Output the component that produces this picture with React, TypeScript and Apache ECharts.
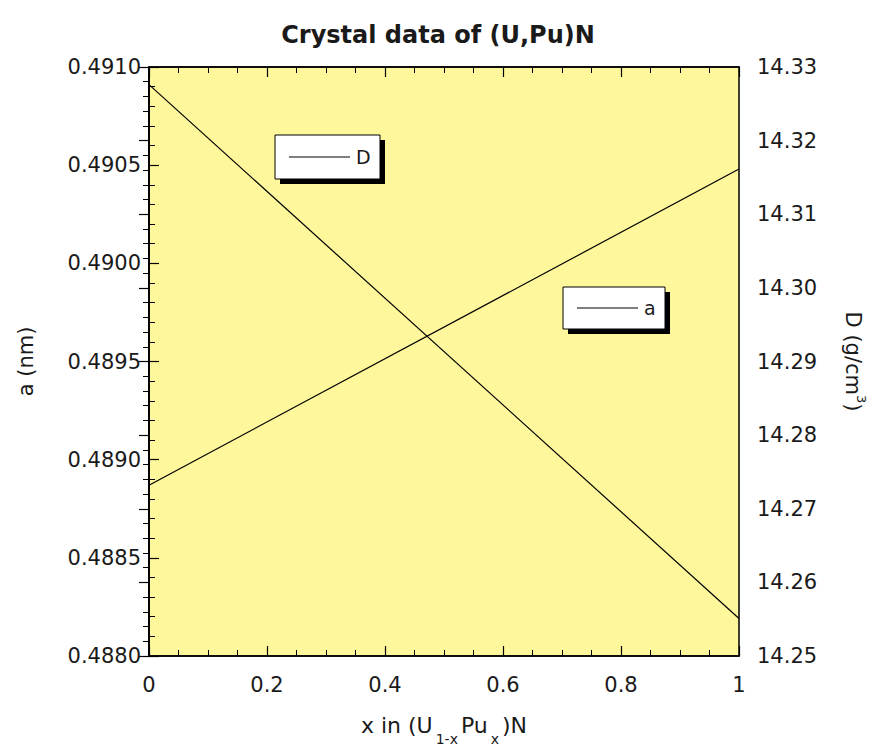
import React, { useEffect, useRef } from "react";
import * as echarts from "echarts";

const xValues = [0, 1];
const aValues = [0.48887, 0.49048];
const dValues = [14.3276, 14.2551];
const seriesNames = ["a", "D"];
const titleText = "Crystal data of (U,Pu)N";

const FONT = "DejaVu Sans";
const INK = "#1a1a1a";

export default function App() {
  const ref = useRef<HTMLDivElement>(null);
  useEffect(() => {
    if (!ref.current) return;
    const chart = echarts.init(ref.current, undefined, { renderer: "svg" });
    const tickCommon = {
      axisLine: { show: true, lineStyle: { color: "#000", width: 1.5 } },
      axisTick: { show: true, inside: true, length: 10, lineStyle: { color: "#000", width: 1.2 } },
      minorTick: { show: true, length: 6, lineStyle: { color: "#000", width: 1 } },
      splitLine: { show: false },
    };
    const legendBox = (x: number, y: number, w: number, h: number, label: string) => ({
      type: "group",
      z: 10,
      children: [
        { type: "rect", shape: { x: x + 5, y: y + 5, width: w, height: h }, style: { fill: "#000" } },
        { type: "rect", shape: { x, y, width: w, height: h }, style: { fill: "#fff", stroke: "#000", lineWidth: 1 } },
        { type: "line", shape: { x1: x + 14, y1: y + h / 2, x2: x + 75, y2: y + h / 2 }, style: { stroke: "#000", lineWidth: 1.2 } },
        { type: "text", x: x + 81, y: y + h / 2, style: { text: label, fontSize: 19, fontFamily: FONT, fill: INK, verticalAlign: "middle", align: "left" } },
      ],
    });
    chart.setOption({
      animation: false,
      backgroundColor: "#fff",
      title: {
        text: titleText,
        left: "center",
        top: 18,
        textStyle: { fontFamily: FONT, fontSize: 24, fontWeight: "bold", color: INK },
      },
      grid: {
        left: 149,
        right: 128,
        top: 67,
        bottom: 88,
        show: true,
        backgroundColor: "#FEF79B",
        borderColor: "#000",
        borderWidth: 1.5,
      },
      xAxis: [
        {
          type: "value",
          position: "bottom",
          min: 0,
          max: 1,
          interval: 0.2,
          ...tickCommon,
          minorTick: { ...tickCommon.minorTick, splitNumber: 4 },
          axisLabel: { margin: 18, fontFamily: FONT, fontSize: 21, color: INK },
          name: "x in (U{sub|1-x}Pu{sub|x})N",
          nameLocation: "middle",
          nameGap: 48,
          nameTextStyle: {
            fontFamily: FONT,
            fontSize: 22,
            color: INK,
            lineHeight: 42,
            rich: {
              sub: { fontFamily: FONT, fontSize: 14, color: INK, lineHeight: 42, verticalAlign: "bottom", padding: [0, 3, 0, 3] },
            },
          },
        },
        {
          type: "value",
          position: "top",
          min: 0,
          max: 1,
          interval: 0.2,
          ...tickCommon,
          minorTick: { ...tickCommon.minorTick, splitNumber: 4 },
          axisLabel: { show: false },
        },
      ],
      yAxis: [
        {
          type: "value",
          position: "left",
          min: 0.488,
          max: 0.491,
          interval: 0.0005,
          ...tickCommon,
          minorTick: { ...tickCommon.minorTick, splitNumber: 5 },
          axisLabel: {
            margin: 8,
            fontFamily: FONT,
            fontSize: 21,
            color: INK,
            formatter: (v: number) => v.toFixed(4),
          },
          name: "a (nm)",
          nameLocation: "middle",
          nameGap: 113,
          nameTextStyle: { fontFamily: FONT, fontSize: 21, color: INK },
        },
        {
          type: "value",
          position: "right",
          min: 14.25,
          max: 14.33,
          interval: 0.01,
          ...tickCommon,
          minorTick: { ...tickCommon.minorTick, splitNumber: 5 },
          axisLabel: {
            margin: 18,
            fontFamily: FONT,
            fontSize: 21,
            color: INK,
            formatter: (v: number) => v.toFixed(2),
          },
          name: "D (g/cm{sup|3})",
          nameLocation: "middle",
          nameRotate: -90,
          nameGap: 99,
          nameTextStyle: {
            fontFamily: FONT,
            fontSize: 21,
            color: INK,
            lineHeight: 30,
            rich: {
              sup: { fontFamily: FONT, fontSize: 13, color: INK, lineHeight: 30, verticalAlign: "top" },
            },
          },
        },
      ],
      series: [
        {
          name: seriesNames[0],
          type: "line",
          xAxisIndex: 0,
          yAxisIndex: 0,
          showSymbol: false,
          data: xValues.map((x, i) => [x, aValues[i]]),
          lineStyle: { color: "#000", width: 1.2 },
          z: 3,
        },
        {
          name: seriesNames[1],
          type: "line",
          xAxisIndex: 0,
          yAxisIndex: 1,
          showSymbol: false,
          data: xValues.map((x, i) => [x, dValues[i]]),
          lineStyle: { color: "#000", width: 1.2 },
          z: 3,
        },
      ],
      graphic: [legendBox(275, 135, 105, 44, "D"), legendBox(563, 287, 102, 42, "a")],
    });
    return () => chart.dispose();
  }, []);
  return (
    <div
      ref={ref}
      style={{ position: "fixed", left: 0, top: 0, width: 876, height: 751 }}
    />
  );
}
